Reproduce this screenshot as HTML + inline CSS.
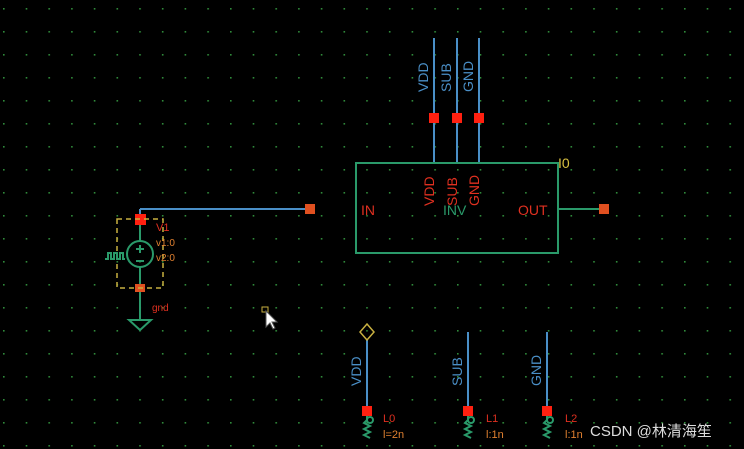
<!DOCTYPE html><html><head><style>body{margin:0;background:#000}svg{display:block}</style></head><body>
<svg width="744" height="449" xmlns="http://www.w3.org/2000/svg" font-family="Liberation Sans, sans-serif">
<defs><pattern id="g" x="3" y="8" width="22.7" height="23" patternUnits="userSpaceOnUse"><rect x="0" y="0" width="1.6" height="1.6" fill="#2f8a3a"/></pattern></defs>
<rect width="744" height="449" fill="#000"/><rect width="744" height="449" fill="url(#g)"/>
<g stroke="#4a8fc7" stroke-width="2">
<line x1="434" y1="38" x2="434" y2="163"/><line x1="457" y1="38" x2="457" y2="163"/><line x1="479" y1="38" x2="479" y2="163"/>
<line x1="140" y1="209" x2="310" y2="209"/><line x1="140" y1="209" x2="140" y2="219"/>
<line x1="367" y1="340" x2="367" y2="411"/><line x1="468" y1="332" x2="468" y2="411"/><line x1="547" y1="332" x2="547" y2="411"/>
</g>
<g fill="#4a8fc7" font-size="14">
<text transform="translate(428,92) rotate(-90)">VDD</text><text transform="translate(451,92) rotate(-90)">SUB</text><text transform="translate(473,92) rotate(-90)">GND</text>
<text transform="translate(361,386) rotate(-90)">VDD</text><text transform="translate(462,386) rotate(-90)">SUB</text><text transform="translate(541,386) rotate(-90)">GND</text>
</g>
<rect x="356" y="163" width="202" height="90" fill="none" stroke="#2a9a6a" stroke-width="2"/>
<line x1="558" y1="209" x2="604" y2="209" stroke="#2a9a6a" stroke-width="2"/>
<g fill="#e03020" font-size="14">
<text x="361" y="215">IN</text><text x="518" y="215">OUT</text>
<text transform="translate(434,206) rotate(-90)">VDD</text><text transform="translate(457,206) rotate(-90)">SUB</text><text transform="translate(479,206) rotate(-90)">GND</text>
</g>
<text x="443" y="215" fill="#2a9a6a" font-size="14">INV</text>
<text x="558" y="168" fill="#d8c040" font-size="14">I0</text>
<g fill="#ff2010"><rect x="429" y="113" width="10" height="10"/><rect x="452" y="113" width="10" height="10"/><rect x="474" y="113" width="10" height="10"/>
<rect x="135" y="214" width="11" height="11"/><rect x="362" y="406" width="10" height="10"/><rect x="463" y="406" width="10" height="10"/><rect x="542" y="406" width="10" height="10"/></g>
<g fill="#e05020"><rect x="305" y="204" width="10" height="10"/><rect x="599" y="204" width="10" height="10"/><rect x="135" y="284" width="10" height="8"/></g>
<rect x="117" y="219" width="46" height="69" fill="none" stroke="#c8b040" stroke-width="1.5" stroke-dasharray="5,4"/>
<g stroke="#2a9a6a" stroke-width="2" fill="none">
<line x1="140" y1="225" x2="140" y2="241"/><circle cx="140" cy="254" r="13"/><line x1="140" y1="267" x2="140" y2="284"/>
<line x1="140" y1="292" x2="140" y2="320"/><path d="M129 320 H151 L140 330 Z"/>
<path d="M105 259 h3 v-6 h3 v6 h3 v-6 h3 v6 h3 v-6 h3 v6 h2"/>
<line x1="136" y1="249" x2="144" y2="249"/><line x1="140" y1="245" x2="140" y2="253"/><line x1="136" y1="261" x2="144" y2="261"/>
<circle cx="370" cy="420" r="3"/><circle cx="471" cy="420" r="3"/><circle cx="550" cy="420" r="3"/>
<path d="M367 416 v4 l-3 3 l6 3 l-6 3 l6 3 l-6 3 l6 3"/><path d="M468 416 v4 l-3 3 l6 3 l-6 3 l6 3 l-6 3 l6 3"/><path d="M547 416 v4 l-3 3 l6 3 l-6 3 l6 3 l-6 3 l6 3"/>
</g>
<path d="M367 324 l7 8 l-7 8 l-7 -8 Z" fill="none" stroke="#c8b040" stroke-width="1.5"/>
<g font-size="11"><text x="156" y="231" fill="#e03020">V1</text><text x="156" y="246" fill="#e08030" font-size="10">v1:0</text><text x="156" y="261" fill="#e08030" font-size="10">v2:0</text><text x="152" y="311" fill="#e03020" font-size="10">gnd</text>
<text x="383" y="422" fill="#e03020">L0</text><text x="383" y="438" fill="#e08030">l=2n</text>
<text x="486" y="422" fill="#e03020">L1</text><text x="486" y="438" fill="#e08030">l:1n</text>
<text x="565" y="422" fill="#e03020">L2</text><text x="565" y="438" fill="#e08030">l:1n</text></g>
<rect x="262" y="307" width="6" height="5" fill="none" stroke="#c8b040"/>
<path d="M266 311 v16 l4 -4 l3 6 l2 -1 l-3 -6 h5 Z" fill="#fff" stroke="#555"/>
<text x="590" y="436" fill="#ddd" font-size="15" font-family="Liberation Sans, Noto Sans CJK SC, sans-serif">CSDN @林清海笙</text>
</svg></body></html>
